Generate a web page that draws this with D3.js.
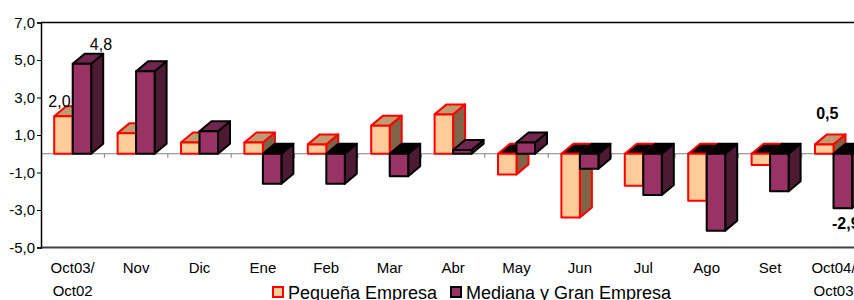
<!DOCTYPE html>
<html>
<head>
<meta charset="utf-8">
<script src="https://cdn.jsdelivr.net/npm/d3@7"></script>
<style>
  body { margin: 0; background: #fff; }
  text { font-family: "Liberation Sans", Arial, sans-serif; fill: #000; }
</style>
</head>
<body>
<div id="chart"></div>
<script>
// Chart data
const categories = ["Oct03/\nOct02", "Nov", "Dic", "Ene", "Feb", "Mar", "Abr", "May", "Jun", "Jul", "Ago", "Set", "Oct04/\nOct03"];
const seriesNames = ["Pequeña Empresa", "Mediana y Gran Empresa"];
const pequena = [2.0, 1.1, 0.6, 0.6, 0.5, 1.5, 2.1, -1.1, -3.4, -1.7, -2.5, -0.6, 0.5];
const mediana = [4.8, 4.4, 1.2, -1.6, -1.6, -1.2, 0.2, 0.6, -0.8, -2.2, -4.1, -2.0, -2.9];
const yTicks = [-5, -3, -1, 1, 3, 5, 7];
const labeledCategories = [0, 12];

const W = 854, H = 300;
const plotLeft = 41, plotTop = 22.5, plotBottom = 247.5;
const step = 63.4;
const depthX = 12, depthY = -10;

const styles = [
  { front: '#FFCC99', top: '#C09A70', side: '#806448', stroke: '#FF0000' },
  { front: '#993366', top: '#70264F', side: '#4C1A33', stroke: '#000000' }
];

const svg = d3.select('#chart').append('svg')
  .attr('width', W).attr('height', H);

const x = d3.scaleBand()
  .domain(d3.range(categories.length))
  .range([plotLeft, plotLeft + step * categories.length])
  .padding(0);

const xSub = d3.scaleBand()
  .domain([0, 1])
  .range([(x.bandwidth() - 37) / 2, (x.bandwidth() + 37) / 2]);

const y = d3.scaleLinear().domain([-5, 7]).range([plotBottom, plotTop]);
// Spanish decimal comma, plain hyphen for negatives
const fmt = v => (v < 0 ? '-' : '') + Math.abs(v).toFixed(1).replace('.', ',');

// Frame lines
svg.append('line')
  .attr('x1', plotLeft).attr('x2', W).attr('y1', y(7)).attr('y2', y(7))
  .attr('stroke', '#000').attr('stroke-width', 1.5);
svg.append('line')
  .attr('x1', plotLeft).attr('x2', W).attr('y1', y(-5)).attr('y2', y(-5))
  .attr('stroke', '#404040').attr('stroke-width', 2);

// Zero line and category ticks
svg.append('line')
  .attr('x1', plotLeft).attr('x2', W).attr('y1', y(0)).attr('y2', y(0))
  .attr('stroke', '#808080').attr('stroke-width', 1);
svg.selectAll('.cat-tick')
  .data(d3.range(1, categories.length))
  .enter().append('line')
  .attr('x1', d => x(d)).attr('x2', d => x(d))
  .attr('y1', y(0)).attr('y2', y(0) + 4)
  .attr('stroke', '#808080').attr('stroke-width', 1);

// Value axis
const yAxis = svg.append('g')
  .attr('transform', `translate(${plotLeft},0)`)
  .call(d3.axisLeft(y).tickValues(yTicks).tickSize(4).tickPadding(2).tickFormat(fmt));
yAxis.select('.domain').attr('stroke', '#000').attr('stroke-width', 1.5);
yAxis.selectAll('.tick line').attr('stroke', '#000');
yAxis.selectAll('.tick text')
  .attr('font-size', '15px')
  .attr('fill', '#000');

// 3D bars
const poly = pts => pts.map(p => p.join(',')).join(' ');
const bars = svg.append('g');

categories.forEach((cat, i) => {
  [pequena[i], mediana[i]].forEach((v, s) => {
    const st = styles[s];
    const x1 = x(i) + xSub(s);
    const x2 = x1 + xSub.bandwidth();
    const yT = y(Math.max(v, 0));
    const yB = y(Math.min(v, 0));
    const g = bars.append('g')
      .attr('stroke', st.stroke)
      .attr('stroke-width', 2)
      .attr('stroke-linejoin', 'round');

    // Side face
    g.append('polygon')
      .attr('points', poly([[x2, yT], [x2 + depthX, yT + depthY], [x2 + depthX, yB + depthY], [x2, yB]]))
      .attr('fill', st.side);
    // Top face (dark when bar hangs below zero)
    g.append('polygon')
      .attr('points', poly([[x1, yT], [x2, yT], [x2 + depthX, yT + depthY], [x1 + depthX, yT + depthY]]))
      .attr('fill', v >= 0 ? st.top : '#000');
    // Front face
    g.append('rect')
      .attr('x', x1).attr('y', yT)
      .attr('width', x2 - x1).attr('height', yB - yT)
      .attr('fill', st.front);
  });
});

// Data labels
labeledCategories.forEach(i => {
  const last = i === categories.length - 1;
  [pequena[i], mediana[i]].forEach((v, s) => {
    const x1 = x(i) + xSub(s);
    const cx = x1 + xSub.bandwidth() / 2;
    let lx, ly;
    if (!last) {
      lx = s === 0 ? cx - 4 : cx + 19;
      ly = y(v) + depthY + (s === 0 ? 0.5 : -3.5);
    } else {
      lx = cx + 3;
      ly = v >= 0 ? y(v) + depthY - 15 : y(v) + 21;
    }
    svg.append('text')
      .attr('x', lx).attr('y', ly)
      .attr('text-anchor', 'middle')
      .attr('font-size', '16px')
      .attr('font-weight', last ? 'bold' : 'normal')
      .text(fmt(v));
  });
});

// Category labels
categories.forEach((cat, i) => {
  const t = svg.append('text')
    .attr('x', x(i) + x.bandwidth() / 2)
    .attr('y', 273)
    .attr('text-anchor', 'middle')
    .attr('font-size', '15px');
  cat.split('\n').forEach((line, k) => {
    t.append('tspan')
      .attr('x', x(i) + x.bandwidth() / 2)
      .attr('dy', k === 0 ? 0 : 23)
      .text(line);
  });
});

// Legend
const legendX = [273, 451];
seriesNames.forEach((name, s) => {
  svg.append('rect')
    .attr('x', legendX[s]).attr('y', 287)
    .attr('width', 10).attr('height', 10)
    .attr('fill', styles[s].front)
    .attr('stroke', styles[s].stroke)
    .attr('stroke-width', 2);
  svg.append('text')
    .attr('x', legendX[s] + 15).attr('y', 298.5)
    .attr('font-size', '18px')
    .text(name);
});
</script>
</body>
</html>
